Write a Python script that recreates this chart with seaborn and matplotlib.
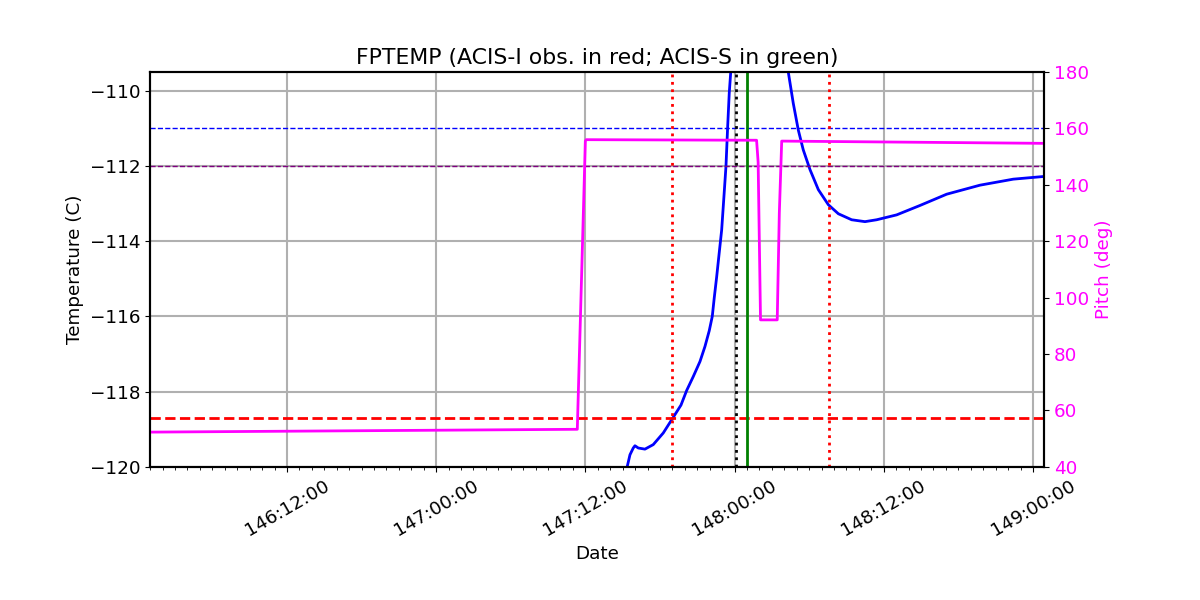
import datetime as dt
import pandas as pd
import seaborn as sns
import matplotlib
matplotlib.use("Agg")
from matplotlib import pyplot as plt
import matplotlib.dates as mdates

YEAR = 2019

# temperature (FPTEMP) vs day-of-year
temp_doy = [147.6404, 147.6495, 147.6605, 147.6662, 147.6773, 147.6997, 147.7275,
            147.7611, 147.7892, 147.8204, 147.8395, 147.8616, 147.8841, 147.9008,
            147.9152, 147.9253, 147.9320, 147.9400, 147.9487, 147.9568, 147.9645,
            147.9712, 147.9769, 147.9822, 147.9869, 147.9946,
            148.008, 148.05, 148.12, 148.16, 148.175,
            148.1806, 148.1967, 148.2135, 148.2302, 148.2530, 148.2808, 148.3143,
            148.3478, 148.3924, 148.4370, 148.4762, 148.5432, 148.6213, 148.7108,
            148.8224, 148.9340, 149.0345]
temp_val = [-119.99, -119.68, -119.50, -119.44, -119.50, -119.53, -119.41,
            -119.10, -118.75, -118.36, -117.97, -117.60, -117.20, -116.80,
            -116.38, -116.0, -115.50, -114.95, -114.30, -113.70, -112.80,
            -112.01, -110.95, -110.06, -109.53, -108.5,
            -107.0, -104.0, -104.5, -107.5, -108.8,
            -109.53, -110.33, -111.04, -111.57, -112.10, -112.63, -113.03,
            -113.27, -113.43, -113.48, -113.43, -113.30, -113.05, -112.75,
            -112.51, -112.35, -112.28]

# pitch vs day-of-year
pitch_doy = [146.041, 147.473, 147.500, 147.503, 148.0738, 148.079, 148.087,
             148.143, 148.150, 148.158, 149.037]
pitch_val = [52.3, 53.3, 155.5, 156.0, 155.8, 148.0, 92.1,
             92.1, 130.0, 155.5, 154.7]

acis_i_obs = [147.790, 148.316]
acis_s_obs = [148.042]
now_doy = 148.005
plan_limit = -111.0
acis_i_limit = -112.0
red_limit = -118.7
x_range = [146.041, 149.037]


def to_date(doy):
    return dt.datetime(YEAR, 1, 1) + dt.timedelta(days=doy - 1)


temp_df = pd.DataFrame({"date": [to_date(d) for d in temp_doy], "temp": temp_val})
pitch_df = pd.DataFrame({"date": [to_date(d) for d in pitch_doy], "pitch": pitch_val})

plt.rcParams["font.size"] = 13.2
fig, ax = plt.subplots(figsize=(12, 6), dpi=100)
fig.subplots_adjust(left=0.125, right=0.87, top=0.88, bottom=0.222)

sns.lineplot(data=temp_df, x="date", y="temp", ax=ax, color="blue", lw=2)
ax.axhline(plan_limit, color="blue", ls="--", lw=1)
ax.axhline(acis_i_limit, color="purple", ls="--", lw=1)
ax.axhline(red_limit, color="red", ls="--", lw=2)
for d in acis_i_obs:
    ax.axvline(to_date(d), color="red", ls=":", lw=2)
for d in acis_s_obs:
    ax.axvline(to_date(d), color="green", ls="-", lw=2)
ax.axvline(to_date(now_doy), color="black", ls=":", lw=2)

ax.set_xlim(to_date(x_range[0]), to_date(x_range[1]))
ax.set_ylim(-120, -109.5)
ax.set_yticks(range(-120, -109, 2))
ax.xaxis.set_major_locator(mdates.HourLocator(byhour=[0, 12]))
ax.xaxis.set_minor_locator(mdates.HourLocator())
ax.xaxis.set_major_formatter(mdates.DateFormatter("%j:%H:%M"))
for lab in ax.get_xticklabels():
    lab.set_rotation(30)
    lab.set_ha("center")
ax.grid(True, color="#b0b0b0", lw=1.5)
ax.set_xlabel("Date")
ax.set_ylabel("Temperature (C)")
ax.set_title("FPTEMP (ACIS-I obs. in red; ACIS-S in green)")

ax2 = ax.twinx()
sns.lineplot(data=pitch_df, x="date", y="pitch", ax=ax2, color="magenta", lw=2)
ax2.set_ylim(40, 180)
ax2.set_ylabel("Pitch (deg)", color="magenta")
ax2.tick_params(axis="y", colors="magenta")
ax2.spines["right"].set_color("black")
ax2.tick_params(axis="y", color="black")
ax2.set_xlim(to_date(x_range[0]), to_date(x_range[1]))

for a in (ax, ax2):
    for s in a.spines.values():
        s.set_linewidth(1.5)

fig.savefig("out.png", dpi=100)
